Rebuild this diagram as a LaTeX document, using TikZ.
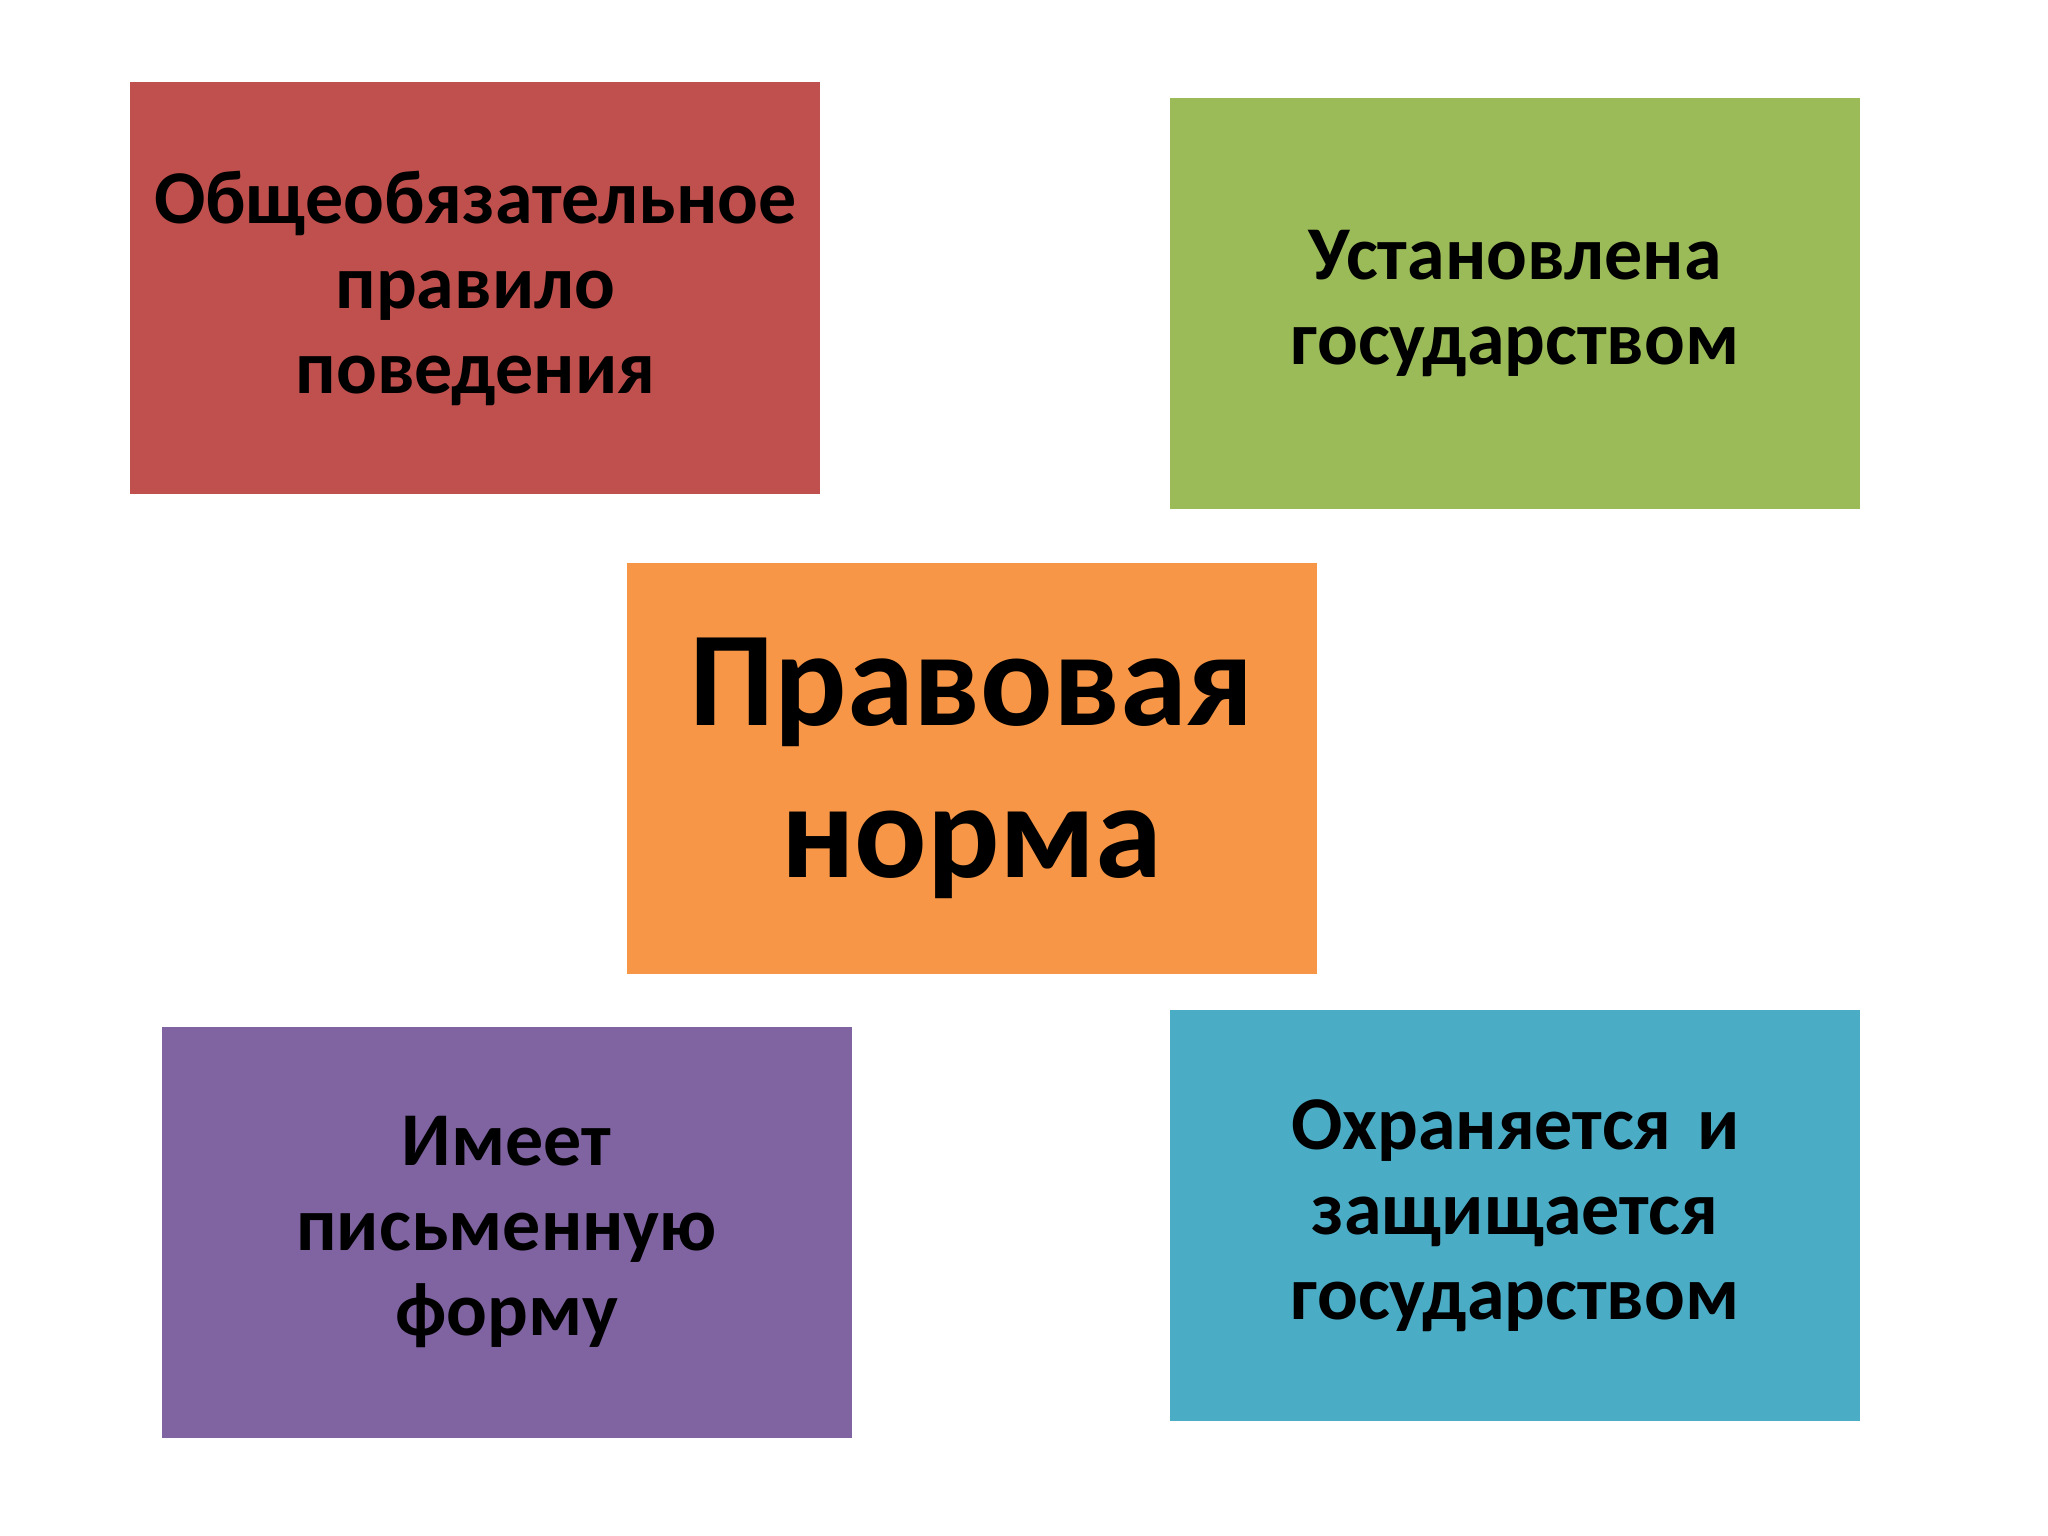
\documentclass[tikz,border=0pt]{standalone}
\usepackage{fontspec}
\setmainfont{Carlito}[WordSpace=0.8]
\definecolor{cred}{HTML}{C0504D}
\definecolor{cgreen}{HTML}{9BBB59}
\definecolor{corange}{HTML}{F79646}
\definecolor{cpurple}{HTML}{8064A2}
\definecolor{cblue}{HTML}{4BACC6}
\tikzset{
  card/.style={rectangle, inner sep=0pt, minimum width=690pt, minimum height=411pt,
    text width=680pt, align=center, text=black,
    font=\fontsize{76}{85}\selectfont\bfseries},
  bigcard/.style={card, font=\fontsize{135}{152}\selectfont\bfseries}
}
\begin{document}
\begin{tikzpicture}[x=1pt,y=-1pt]
\useasboundingbox[fill=white] (0,0) rectangle (2048,1536);
\node[card, fill=cred] (rule) at (475.4,288) {Общеобязательное\\правило\\поведения};
\node[card, fill=cgreen] (state) at (1515.2,303.7) {Установлена\\государством};
\node[bigcard, fill=corange] (norm) at (971.8,768) {Правовая\\норма};
\node[card, fill=cpurple] (form) at (506.8,1232.3) {Имеет\\письменную\\форму};
\node[card, fill=cblue] (protect) at (1515.2,1215.3) {Охраняется и\\защищается\\государством};
\end{tikzpicture}
\end{document}
